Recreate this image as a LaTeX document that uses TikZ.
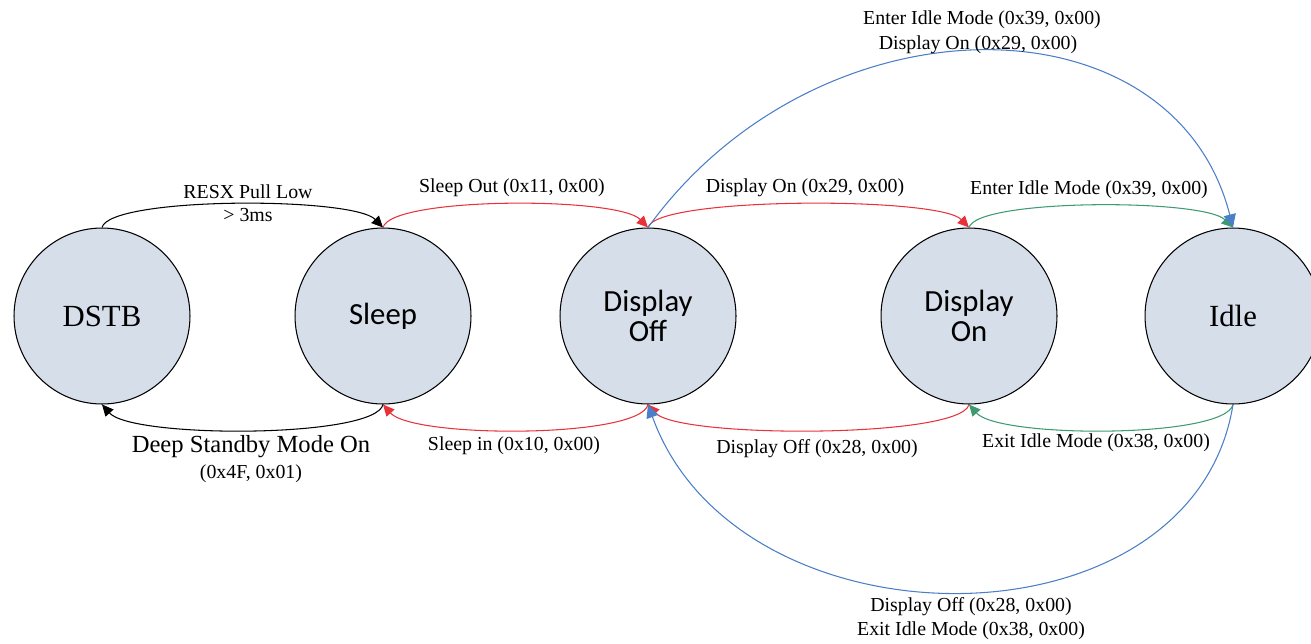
\documentclass[tikz,border=0pt]{standalone}
\usepackage{fontspec}
\setmainfont{Liberation Serif}
\newfontfamily\statesans{Carlito}
\usetikzlibrary{arrows.meta}
\definecolor{statefill}{HTML}{D6DEEA}
\definecolor{tred}{HTML}{E8323A}
\definecolor{tgreen}{HTML}{3E9A70}
\definecolor{tblue}{HTML}{4A7EC6}
\tikzset{
  state/.style={circle, draw=black, line width=0.6pt, fill=statefill,
    minimum size=3.52cm, inner sep=0pt, font=\fontsize{17.5}{19}\selectfont,
    align=center},
  tip/.style={-{Triangle[length=6.5pt,width=6pt]}, line width=0.6pt},
  blk/.style={tip, draw=black},
  rd/.style={tip, draw=tred, -{Triangle[length=6.5pt,width=6pt,fill=tred]}},
  gr/.style={tip, draw=tgreen, -{Triangle[length=6.5pt,width=6pt,fill=tgreen]}},
  bl/.style={tip, draw=tblue, -{Triangle[length=7.5pt,width=7pt,fill=tblue]}},
  lbl/.style={font=\fontsize{11.3}{13.5}\selectfont, inner sep=0pt, align=center},
  biglbl/.style={font=\fontsize{14}{15}\selectfont, inner sep=0pt}
}
\begin{document}
\begin{tikzpicture}[x=0.02cm, y=-0.02cm]
\useasboundingbox (0,0) rectangle (1311,643);
\begin{scope}
\clip (0,0) rectangle (1311,643);

% states
\node[state] (dstb) at (102,316) {DSTB};
\node[state] (sleep) at (383,316) {\statesans Sleep};
\node[state] (doff) at (648,316) {\statesans Display\\[-2pt]\statesans Off};
\node[state] (don) at (969,316) {\statesans Display\\[-2pt]\statesans On};
\node[state] (idle) at (1233,316) {Idle};

% upper transitions
\draw[blk] (dstb.north) .. controls +(8,-31) and +(-30,-31) .. (sleep.north);
\draw[rd] (sleep.north) .. controls +(8,-31) and +(-30,-31) .. (doff.north);
\draw[rd] (doff.north) .. controls +(8,-31) and +(-30,-31) .. (don.north);
\draw[gr] (don.north) .. controls +(8,-29) and +(-30,-29) .. (idle.north);

% lower transitions
\draw[blk] (sleep.south) .. controls +(-8,34) and +(30,34) .. (dstb.south);
\draw[rd] (doff.south) .. controls +(-8,34) and +(30,34) .. (sleep.south);
\draw[rd] (don.south) .. controls +(-8,34) and +(30,34) .. (doff.south);
\draw[gr] (idle.south) .. controls +(-8,34) and +(30,34) .. (don.south);

% long transitions between Display Off and Idle
\draw[bl] (doff.north) .. controls +(170,-235) and +(-60,-235) .. (idle.north);
\draw[bl] (idle.south) .. controls +(-40,250) and +(90,250) .. (doff.south);
\end{scope}

% labels
\node[lbl] (l1) at (248,192) {RESX Pull Low};
\node[lbl] (l2) at (248,215) {> 3ms};
\node[lbl] (l3) at (512,188) {Sleep Out (0x11, 0x00)};
\node[lbl] (l4) at (805,188) {Display On (0x29, 0x00)};
\node[lbl] (l5) at (1089,190) {Enter Idle Mode (0x39, 0x00)};
\node[biglbl] (l6) at (251,447) {Deep Standby Mode On};
\node[lbl] (l7) at (251,474) {(0x4F, 0x01)};
\node[lbl] (l8) at (514,446) {Sleep in (0x10, 0x00)};
\node[lbl] (l9) at (817,449) {Display Off (0x28, 0x00)};
\node[lbl] (l10) at (1096,443) {Exit Idle Mode (0x38, 0x00)};
\node[lbl] (l11) at (982,20) {Enter Idle Mode (0x39, 0x00)};
\node[lbl] (l12) at (978,45) {Display On (0x29, 0x00)};
\node[lbl] (l13) at (971,607) {Display Off (0x28, 0x00)};
\node[lbl] (l14) at (971,631) {Exit Idle Mode (0x38, 0x00)};
\end{tikzpicture}
\end{document}
